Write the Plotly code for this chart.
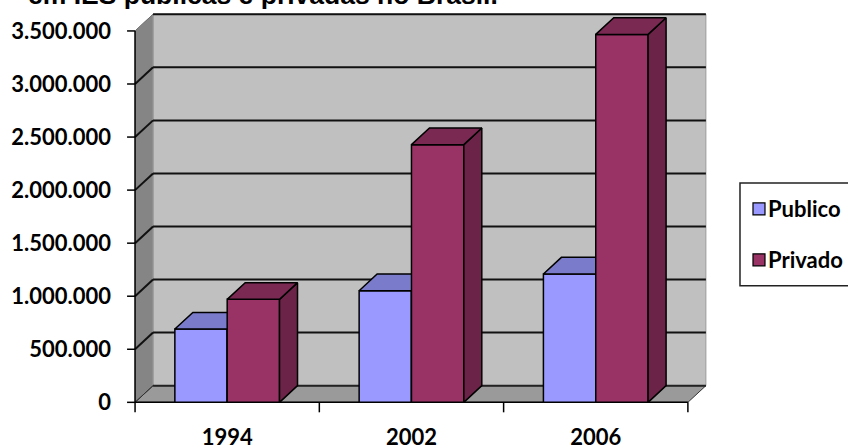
import plotly.graph_objects as go

# ---- data -------------------------------------------------------------
YEARS = ["1994", "2002", "2006"]
PUBLICO = [690450, 1051655, 1209304]
PRIVADO = [970584, 2428258, 3467342]
SERIES_NAMES = ["Publico", "Privado"]
Y_TICK_VALUES = [0, 500000, 1000000, 1500000, 2000000, 2500000, 3000000, 3500000]
Y_TICK_LABELS = ["0", "500.000", "1.000.000", "1.500.000", "2.000.000",
                 "2.500.000", "3.000.000", "3.500.000"]
TITLE_TEXT = "em IES publicas e privadas no Brasil."

# ---- geometry of the pseudo-3D box -------------------------------------
W, H = 848, 448
X_RANGE = [-0.56, 2.62]
Y_RANGE = [-110000, 3688000]
M_L, M_R, M_T, M_B = 123.9, 138.0, 10.7, 33.6
PW = W - M_L - M_R
PH = H - M_T - M_B
X_PER_PX = (X_RANGE[1] - X_RANGE[0]) / PW
Y_PER_PX = (Y_RANGE[1] - Y_RANGE[0]) / PH

DX = 18 * X_PER_PX          # depth shift to the right
DY = 16.7 * Y_PER_PX        # depth shift upwards
BAR_W = 0.284
X_LEFT, X_RIGHT = -0.5, 2.5
Y_MAX = Y_TICK_VALUES[-1]

COLORS = {
    "Publico": {"front": "#9999FF", "top": "#7b7bcc", "side": "#6b6bb3"},
    "Privado": {"front": "#993366", "top": "#7a2952", "side": "#6b2347"},
}
WALL_BACK = "#c0c0c0"
WALL_SIDE = "#858585"
FLOOR = "#9a9a9a"
FONT = "Lato"


def px_x(px):
    return (px - M_L) / PW


def px_y(py):
    return (H - M_B - py) / PH


fig = go.Figure()
shapes = []


def poly(xs, ys, fill, line="black", width=1.5, layer="below"):
    path = "M " + " L ".join(f"{x},{y}" for x, y in zip(xs, ys)) + " Z"
    shapes.append(dict(type="path", path=path, xref="x", yref="y",
                       fillcolor=fill, line=dict(color=line, width=width),
                       layer=layer))


def seg(x0, y0, x1, y1, color="black", width=2):
    shapes.append(dict(type="line", x0=x0, y0=y0, x1=x1, y1=y1, xref="x",
                       yref="y", line=dict(color=color, width=width),
                       layer="below"))


# walls and floor
poly([X_LEFT + DX, X_RIGHT + DX, X_RIGHT + DX, X_LEFT + DX],
     [DY, DY, Y_MAX + DY, Y_MAX + DY], WALL_BACK, line="#9a9a9a", width=1)
poly([X_LEFT, X_LEFT + DX, X_LEFT + DX, X_LEFT],
     [0, DY, Y_MAX + DY, Y_MAX], WALL_SIDE, line="#9a9a9a", width=1)
poly([X_LEFT, X_RIGHT, X_RIGHT + DX, X_LEFT + DX],
     [0, 0, DY, DY], FLOOR, line="#333333", width=1)

# gridlines on the back and side walls
for v in Y_TICK_VALUES:
    if v == 0:
        seg(X_LEFT + DX, DY, X_RIGHT + DX, DY, "#222222", 2)
        seg(X_LEFT, 0, X_LEFT + DX, DY, "#333333", 1)
    elif v == Y_MAX:
        seg(X_LEFT + DX, v + DY, X_RIGHT + DX, v + DY, "#111111", 2)
        seg(X_LEFT, v, X_LEFT + DX, v + DY, "#6e6e6e", 1)
    else:
        seg(X_LEFT + DX, v + DY, X_RIGHT + DX, v + DY, "#111111", 2)
        seg(X_LEFT, v, X_LEFT + DX, v + DY, "#111111", 2)

# axis lines and tick marks
seg(X_LEFT, 0, X_LEFT, Y_MAX, "black", 1.5)
seg(X_LEFT, 0, X_RIGHT, 0, "black", 1.5)
for v in Y_TICK_VALUES:
    seg(X_LEFT - 8 * X_PER_PX, v, X_LEFT, v, "black", 1.5)
for k in range(len(YEARS) + 1):
    xb = X_LEFT + k
    seg(xb, 0, xb, -10 * Y_PER_PX, "black", 1.5)


def face(xs, ys, color):
    fig.add_trace(go.Scatter(
        x=xs + [xs[0]], y=ys + [ys[0]], mode="lines", fill="toself",
        fillcolor=color, line=dict(color="black", width=1.5),
        hoverinfo="skip", showlegend=False))


# 3-D columns, Publico first so Privado faces sit in front of it
for name, values, shift in ((SERIES_NAMES[0], PUBLICO, -BAR_W),
                            (SERIES_NAMES[1], PRIVADO, 0.0)):
    c = COLORS[name]
    for i, v in enumerate(values):
        x0 = i + shift
        x1 = x0 + BAR_W
        face([x0, x1, x1, x0], [0, 0, v, v], c["front"])
        face([x1, x1 + DX, x1 + DX, x1], [0, DY, v + DY, v], c["side"])
        face([x0, x1, x1 + DX, x0 + DX], [v, v, v + DY, v + DY], c["top"])

# legend box
annotations = []
shapes.append(dict(type="rect", xref="paper", yref="paper",
                   x0=px_x(740), x1=px_x(851), y0=px_y(286), y1=px_y(183),
                   line=dict(color="#222222", width=1.5), fillcolor="white",
                   layer="above"))
for name, cy in ((SERIES_NAMES[0], 209), (SERIES_NAMES[1], 260)):
    shapes.append(dict(type="rect", xref="paper", yref="paper",
                       x0=px_x(753), x1=px_x(765), y0=px_y(cy + 6),
                       y1=px_y(cy - 6), fillcolor=COLORS[name]["front"],
                       line=dict(color="black", width=1.2), layer="above"))
    annotations.append(dict(text=f"<b>{name}</b>", xref="paper", yref="paper",
                            x=px_x(766), y=px_y(cy), xanchor="left",
                            yanchor="middle", showarrow=False,
                            font=dict(family=FONT, size=22, color="black")))

annotations.append(dict(text=f"<b>{TITLE_TEXT}</b>", xref="paper",
                        yref="paper", x=px_x(26), y=px_y(11.5),
                        xanchor="left", yanchor="bottom", showarrow=False,
                        font=dict(family="Liberation Sans", size=26.5,
                                  color="black")))

fig.update_layout(
    width=W, height=H,
    margin=dict(l=M_L, r=M_R, t=M_T, b=M_B, pad=0, autoexpand=False),
    paper_bgcolor="white", plot_bgcolor="rgba(0,0,0,0)",
    showlegend=False,
    shapes=shapes, annotations=annotations,
    xaxis=dict(range=X_RANGE, tickvals=list(range(len(YEARS))),
               ticktext=YEARS, ticks="", showgrid=False, zeroline=False,
               showline=False, fixedrange=True, automargin=False,
               ticklabelstandoff=8,
               tickfont=dict(family=FONT, size=22, color="black",
                             weight="bold")),
    yaxis=dict(range=Y_RANGE, tickvals=Y_TICK_VALUES, ticktext=Y_TICK_LABELS,
               ticks="", showgrid=False, zeroline=False, showline=False,
               fixedrange=True, automargin=False, ticklabelstandoff=12,
               tickfont=dict(family=FONT, size=22, color="black",
                             weight="bold")),
)

fig.write_html("out.html")
